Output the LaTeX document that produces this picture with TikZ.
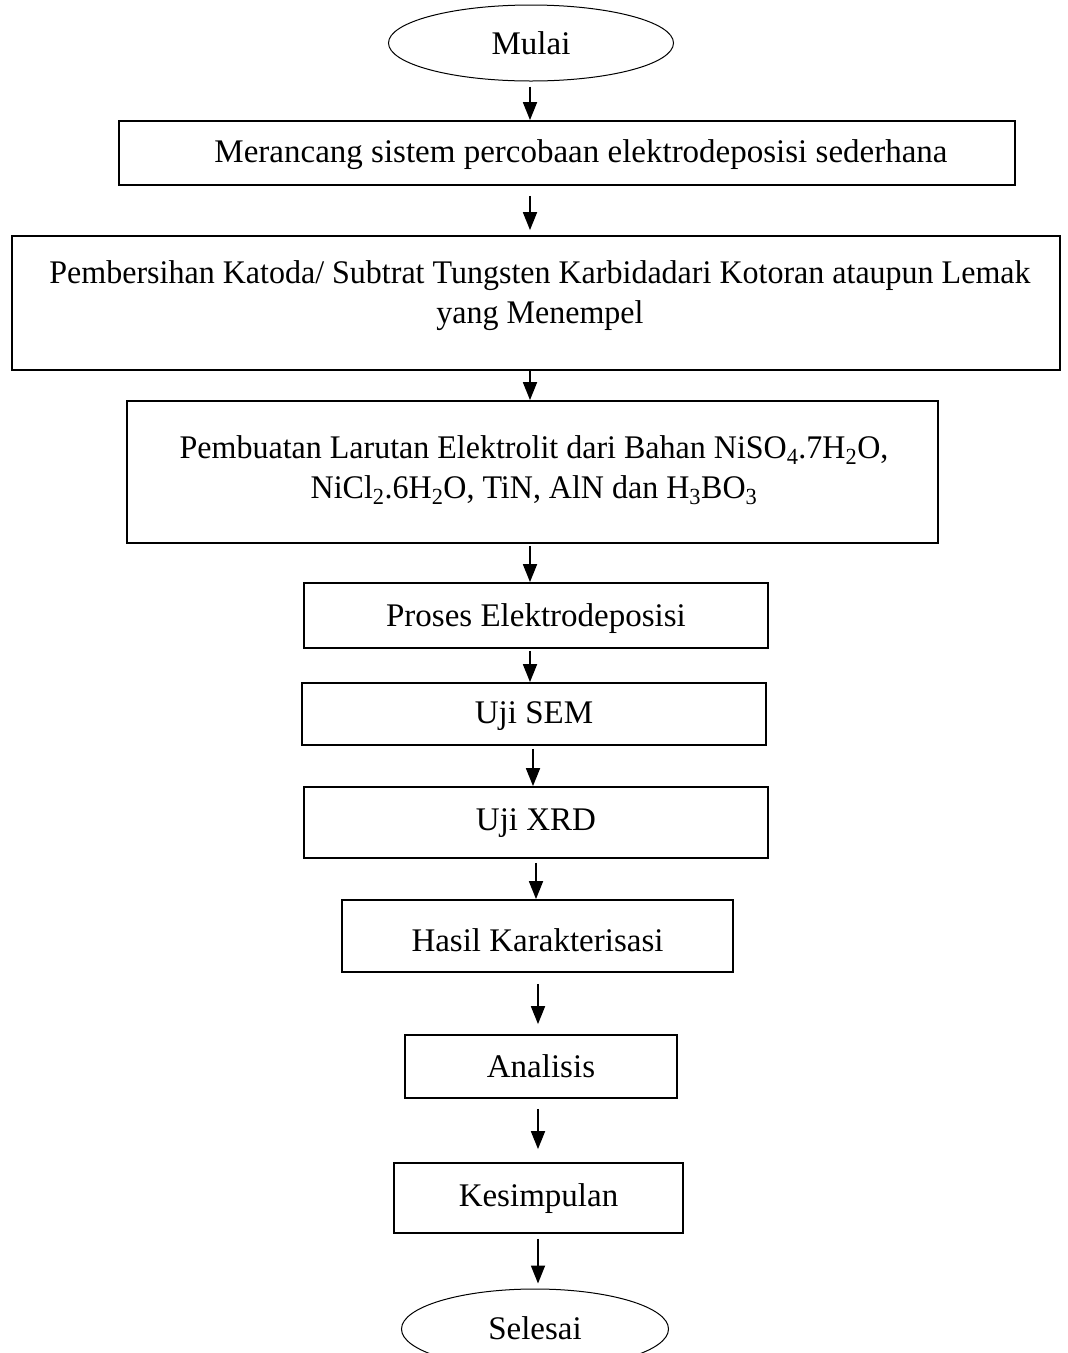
\documentclass[tikz,border=0pt]{standalone}
\usepackage{fontspec}
\setmainfont{Liberation Serif}
\usetikzlibrary{shapes.geometric,arrows.meta}
\tikzset{
  box/.style={draw,line width=1.8pt,rectangle,inner sep=0pt},
  oval/.style={draw,line width=1pt,ellipse,inner sep=0pt},
  txt/.style={inner sep=0pt,align=center,font=\fontsize{33}{40}\selectfont},
  arr/.style={line width=1.8pt,-{Triangle[width=14pt,length=18pt]}},
}
\begin{document}
\begin{tikzpicture}[x=1pt,y=-1pt]
\useasboundingbox (0,0) rectangle (1068,1353);
\begin{scope}
\clip (0,0) rectangle (1068,1353);
% start
\node[oval,minimum width=285pt,minimum height=76pt] (start) at (531,43) {};
\node[txt] (tstart) at (531,43) {Mulai};
% box 1
\node[box,minimum width=896pt,minimum height=64pt] (b1) at (567,153) {};
\node[txt] (t1) at (581,155) {Merancang sistem percobaan elektrodeposisi sederhana};
% box 2
\node[box,minimum width=1048pt,minimum height=134pt] (b2) at (536,303) {};
\node[txt,anchor=north] (t2) at (540,255) {\scalebox{0.97}[1]{\begin{tabular}{@{}c@{}}Pembersihan Katoda/ Subtrat Tungsten Karbidadari Kotoran ataupun Lemak\\yang Menempel\end{tabular}}};
% box 3
\node[box,minimum width=811pt,minimum height=142pt] (b3) at (532.5,472) {};
\node[txt,anchor=north] (t3) at (534,430) {\scalebox{0.97}[1]{\begin{tabular}{@{}c@{}}Pembuatan Larutan Elektrolit dari Bahan NiSO\textsubscript{4}.7H\textsubscript{2}O,\\NiCl\textsubscript{2}.6H\textsubscript{2}O, TiN, AlN dan H\textsubscript{3}BO\textsubscript{3}\end{tabular}}};
% box 4
\node[box,minimum width=464pt,minimum height=65pt] (b4) at (536,615.5) {};
\node[txt] (t4) at (536,619) {Proses Elektrodeposisi};
% box 5
\node[box,minimum width=464pt,minimum height=62pt] (b5) at (534,714) {};
\node[txt] (t5) at (534,716) {Uji SEM};
% box 6
\node[box,minimum width=464pt,minimum height=71pt] (b6) at (536,822.5) {};
\node[txt] (t6) at (536,823) {Uji XRD};
% box 7
\node[box,minimum width=391pt,minimum height=72pt] (b7) at (537.5,936) {};
\node[txt] (t7) at (537.5,940) {Hasil Karakterisasi};
% box 8
\node[box,minimum width=272pt,minimum height=63pt] (b8) at (541,1066.5) {};
\node[txt] (t8) at (541,1066) {Analisis};
% box 9
\node[box,minimum width=289pt,minimum height=70pt] (b9) at (538.5,1198) {};
\node[txt] (t9) at (538.5,1199) {Kesimpulan};
% end
\node[oval,minimum width=267pt,minimum height=80pt] (end) at (535,1329) {};
\node[txt] (tend) at (535,1328) {Selesai};
% arrows
\draw[arr,shorten <=5pt] ([xshift=-1pt]start.south) -- ([xshift=-37pt]b1.north);
\draw[arr,shorten <=10pt,shorten >=5pt] ([xshift=-37pt]b1.south) -- ([xshift=-6pt]b2.north);
\draw[arr] ([xshift=-6pt]b2.south) -- ([xshift=-2.5pt]b3.north);
\draw[arr,shorten <=2pt] ([xshift=-2.5pt]b3.south) -- ([xshift=-6pt]b4.north);
\draw[arr,shorten <=2pt] ([xshift=-6pt]b4.south) -- ([xshift=-4pt]b5.north);
\draw[arr,shorten <=3pt] ([xshift=-1pt]b5.south) -- ([xshift=-3pt]b6.north);
\draw[arr,shorten <=4pt] ([xshift=0pt]b6.south) -- ([xshift=-1.5pt]b7.north);
\draw[arr,shorten <=11pt,shorten >=10pt] ([xshift=0.5pt]b7.south) -- ([xshift=-3pt]b8.north);
\draw[arr,shorten <=10pt,shorten >=13pt] ([xshift=-3pt]b8.south) -- ([xshift=-0.5pt]b9.north);
\draw[arr,shorten <=5pt,shorten >=5pt] ([xshift=-0.5pt]b9.south) -- ([xshift=3pt]end.north);
\end{scope}
\end{tikzpicture}
\end{document}
